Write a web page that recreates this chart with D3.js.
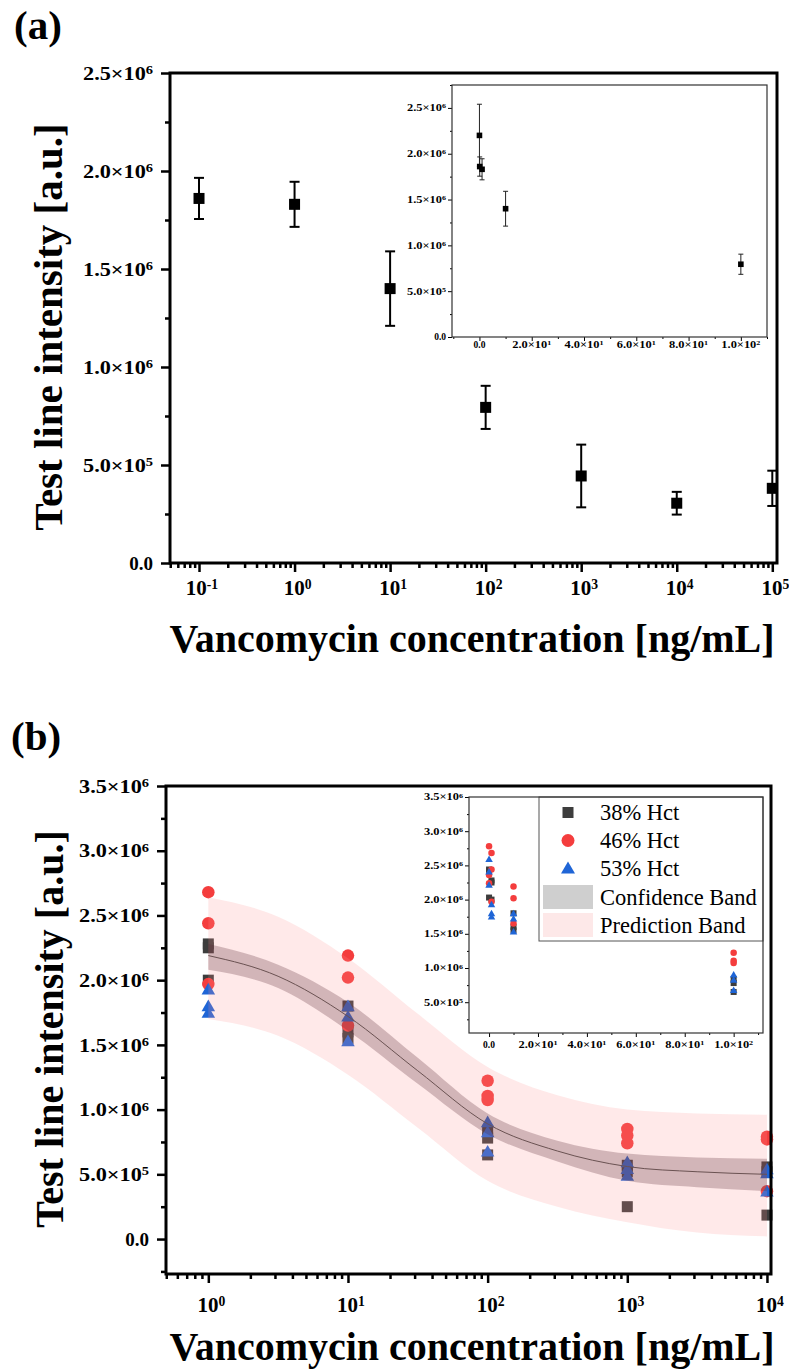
<!DOCTYPE html>
<html>
<head>
<meta charset="utf-8">
<script src="https://cdn.jsdelivr.net/npm/d3@7"></script>
<style>
  body { margin: 0; background: #fff; }
  svg text { font-family: "Liberation Serif", "Times New Roman", serif; }
</style>
</head>
<body>
<script>

/* ---------- panel (a) : mean +/- sd, log x ---------- */
var concA = [0.1, 1, 10, 100, 1000, 10000, 100000];
var meanA = [1.86e6, 1.83e6, 1.40e6, 0.794e6, 0.444e6, 0.305e6, 0.381e6];
var errA  = [0.105e6, 0.115e6, 0.19e6, 0.11e6, 0.16e6, 0.058e6, 0.09e6];

/* inset (a) : linear x, includes blank */
var concAi = [0, 0.1, 1, 10, 100];
var meanAi = [2.2e6, 1.86e6, 1.83e6, 1.40e6, 0.794e6];
var errAi  = [0.34e6, 0.105e6, 0.115e6, 0.19e6, 0.11e6];

/* ---------- panel (b) : three replicates per concentration ---------- */
var concB = [1, 10, 100, 1000, 10000];
var hct38 = [[2.28e6, 2.25e6, 2.00e6], [1.80e6, 1.60e6, 1.55e6], [0.84e6, 0.78e6, 0.65e6], [0.57e6, 0.52e6, 0.25e6], [0.557e6, 0.52e6, 0.185e6]];
var hct46 = [[2.68e6, 2.44e6, 1.97e6], [2.19e6, 2.02e6, 1.65e6], [1.223e6, 1.105e6, 1.074e6], [0.85e6, 0.80e6, 0.74e6], [0.79e6, 0.77e6, 0.37e6]];
var hct53 = [[1.92e6, 1.79e6, 1.74e6], [1.79e6, 1.71e6, 1.52e6], [0.894e6, 0.817e6, 0.667e6], [0.585e6, 0.533e6, 0.48e6], [0.53e6, 0.50e6, 0.358e6]];

var fitX   = [1, 3.16, 10, 31.6, 100, 316, 1000, 3162, 10000];
var fitY   = [2.19e6, 2.03e6, 1.72e6, 1.30e6, 0.89e6, 0.68e6, 0.56e6, 0.52e6, 0.50e6];
var confHi = [2.28e6, 2.12e6, 1.83e6, 1.40e6, 0.97e6, 0.76e6, 0.66e6, 0.63e6, 0.62e6];
var confLo = [2.08e6, 1.94e6, 1.61e6, 1.20e6, 0.81e6, 0.60e6, 0.45e6, 0.40e6, 0.37e6];
var predHi = [2.64e6, 2.49e6, 2.17e6, 1.74e6, 1.33e6, 1.11e6, 1.00e6, 0.97e6, 0.96e6];
var predLo = [1.70e6, 1.57e6, 1.27e6, 0.86e6, 0.45e6, 0.25e6, 0.13e6, 0.05e6, 0.02e6];

/* inset (b) : linear x, includes blank */
var concBi = [0, 1, 10, 100];
var in38 = [[2.44e6, 2.42e6, 2.03e6], [2.28e6, 2.25e6, 2.00e6], [1.80e6, 1.60e6, 1.55e6], [0.84e6, 0.78e6, 0.65e6]];
var in46 = [[2.78e6, 2.36e6, 2.24e6], [2.68e6, 2.44e6, 1.97e6], [2.19e6, 2.02e6, 1.65e6], [1.223e6, 1.105e6, 1.074e6]];
var in53 = [[2.58e6, 2.40e6, 2.205e6], [1.92e6, 1.79e6, 1.74e6], [1.79e6, 1.71e6, 1.52e6], [0.894e6, 0.817e6, 0.667e6]];

var legendNames = ["38% Hct", "46% Hct", "53% Hct", "Confidence Band", "Prediction Band"];

var col38 = "#3d3d3d", col46 = "#f43d3d", col53 = "#1f65d6";

var svg = d3.select("body").append("svg")
  .attr("width", 789).attr("height", 1371);

/* ---------- helpers ---------- */
function sciParts(v) {
  if (Math.abs(v) < 1e-9) return ["0.0", null];
  var e = Math.floor(Math.log10(Math.abs(v)) + 1e-9);
  var m = v / Math.pow(10, e);
  return [m.toFixed(1) + "\u00d710", String(e)];
}
function putSci(sel, v) {
  var p = sciParts(v);
  sel.append("tspan").text(p[0]);
  if (p[1] !== null) sel.append("tspan").attr("dy", "-0.45em").attr("font-size", "0.65em").text(p[1]);
}
function putPow(sel, e) {
  sel.append("tspan").text("10");
  sel.append("tspan").attr("dy", "-0.45em").attr("font-size", "0.65em").text(String(e));
}
function range(lo, hi, step) {
  var out = [];
  for (var i = 0; lo + i * step <= hi + step * 1e-6; i++) out.push(+(lo + i * step).toFixed(6));
  return out;
}
function logMinor(scale) {
  var d = scale.domain(), out = [];
  for (var e = Math.floor(Math.log10(d[0])); e <= Math.ceil(Math.log10(d[1])); e++)
    for (var k = 2; k <= 9; k++) {
      var v = k * Math.pow(10, e);
      if (v >= d[0] && v <= d[1]) out.push(v);
    }
  return out;
}
function ticks(g, scale, side, values, len, width, offset) {
  var ax = side === "left" ? d3.axisLeft(scale) : d3.axisBottom(scale);
  ax.tickValues(values).tickSize(len).tickSizeOuter(0).tickFormat("");
  var t = g.append("g")
    .attr("transform", side === "left" ? "translate(" + offset + ",0)" : "translate(0," + offset + ")")
    .call(ax);
  t.select(".domain").remove();
  t.selectAll(".tick line").attr("stroke", "#000").attr("stroke-width", width);
  return t;
}
function yLabels(g, scale, values, x, size, len) {
  g.selectAll(null).data(values).enter().append("text")
    .attr("x", x).attr("y", function (d) { return scale(d); }).attr("dy", "0.35em")
    .attr("text-anchor", "end").attr("font-size", size).attr("font-weight", "bold")
    .each(function (d) {
      var t = d3.select(this);
      putSci(t, d);
      if (len && d !== 0) t.attr("textLength", len).attr("lengthAdjust", "spacingAndGlyphs");
    });
}
function xSciLabels(g, scale, values, y, size, len) {
  g.selectAll(null).data(values).enter().append("text")
    .attr("x", function (d) { return scale(d); }).attr("y", y)
    .attr("text-anchor", "middle").attr("font-size", size).attr("font-weight", "bold")
    .each(function (d) {
      var t = d3.select(this);
      putSci(t, d);
      if (len && d !== 0) t.attr("textLength", len).attr("lengthAdjust", "spacingAndGlyphs");
    });
}
function xPowLabels(g, scale, values, y, size) {
  g.selectAll(null).data(values).enter().append("text")
    .attr("x", function (d) { return scale(d) + 3; }).attr("y", y)
    .attr("text-anchor", "middle").attr("font-size", size).attr("font-weight", "bold")
    .each(function (d) { putPow(d3.select(this), Math.round(Math.log10(d))); });
}
function flatten(conc, reps) {
  var out = [];
  conc.forEach(function (c, i) { reps[i].forEach(function (v) { out.push({ x: c, y: v }); }); });
  return out;
}
function triPath(side) {
  var h = side * Math.sqrt(3) / 2;
  return "M0," + (-h * 2 / 3) + "L" + (side / 2) + "," + (h / 3) + "L" + (-side / 2) + "," + (h / 3) + "Z";
}
function drawReps(g, x, y, pts, kind, size, color) {
  var s = g.selectAll(null).data(pts).enter();
  if (kind === "square") {
    s.append("rect")
      .attr("x", function (d) { return x(d.x) - size / 2; })
      .attr("y", function (d) { return y(d.y) - size / 2; })
      .attr("width", size).attr("height", size).attr("fill", color);
  } else if (kind === "circle") {
    s.append("circle")
      .attr("cx", function (d) { return x(d.x); }).attr("cy", function (d) { return y(d.y); })
      .attr("r", size / 2).attr("fill", color);
  } else {
    s.append("path").attr("d", triPath(size))
      .attr("transform", function (d) { return "translate(" + x(d.x) + "," + y(d.y) + ")"; })
      .attr("fill", color);
  }
}

/* ================= PANEL (a) ================= */
var gA = svg.append("g");
var xA = d3.scaleLog().domain([0.0497, 112000]).range([170, 777]);
var yA = d3.scaleLinear().domain([0, 2.5e6]).range([563, 73]);

gA.append("text").attr("x", 14).attr("y", 39).attr("font-size", 41).attr("font-weight", "bold").text("(a)");

ticks(gA, yA, "left", range(0, 2.5e6, 0.5e6), 9, 2.5, 170);
ticks(gA, yA, "left", range(0.25e6, 2.25e6, 0.5e6), 5, 2.5, 170);
ticks(gA, xA, "bottom", [0.1, 1, 10, 100, 1000, 10000, 100000], 9, 2.5, 563);
ticks(gA, xA, "bottom", logMinor(xA), 5, 2.5, 563);
yLabels(gA, yA, range(0, 2.5e6, 0.5e6), 153, 19, 70);
xPowLabels(gA, xA, [0.1, 1, 10, 100, 1000, 10000, 100000], 595, 21);

var ptsA = concA.map(function (c, i) { return { x: c, y: meanA[i], e: errA[i] }; });
var eb = gA.selectAll(".eb").data(ptsA).enter().append("g").attr("stroke", "#000").attr("stroke-width", 2);
eb.append("line").attr("x1", function (d) { return xA(d.x); }).attr("x2", function (d) { return xA(d.x); })
  .attr("y1", function (d) { return yA(d.y - d.e); }).attr("y2", function (d) { return yA(d.y + d.e); });
[-1, 1].forEach(function (sgn) {
  eb.append("line").attr("x1", function (d) { return xA(d.x) - 5; }).attr("x2", function (d) { return xA(d.x) + 5; })
    .attr("y1", function (d) { return yA(d.y + sgn * d.e); }).attr("y2", function (d) { return yA(d.y + sgn * d.e); });
});
gA.selectAll(".sqA").data(ptsA).enter().append("rect")
  .attr("x", function (d) { return xA(d.x) - 5.5; }).attr("y", function (d) { return yA(d.y) - 5.5; })
  .attr("width", 11).attr("height", 11).attr("fill", "#000");

/* inset (a) */
var xAi = d3.scaleLinear().domain([-10.5, 110]).range([452, 767]);
var yAi = d3.scaleLinear().domain([0, 2.75e6]).range([337, 85]);
gA.append("rect").attr("x", 452).attr("y", 85).attr("width", 315).attr("height", 252).attr("fill", "#fff");
ticks(gA, yAi, "left", range(0, 2.5e6, 0.5e6), 4, 1, 452);
ticks(gA, yAi, "left", range(0.25e6, 2.75e6, 0.5e6), 2, 1, 452);
ticks(gA, xAi, "bottom", range(0, 100, 20), 4, 1, 337);
ticks(gA, xAi, "bottom", range(-10, 110, 20), 2, 1, 337);
yLabels(gA, yAi, range(0, 2.5e6, 0.5e6), 446, 9.5, 39);
xSciLabels(gA, xAi, range(0, 100, 20), 348, 9.5, 39);

var ptsAi = concAi.map(function (c, i) { return { x: c, y: meanAi[i], e: errAi[i] }; });
var ebi = gA.selectAll(".ebi").data(ptsAi).enter().append("g").attr("stroke", "#222").attr("stroke-width", 1);
ebi.append("line").attr("x1", function (d) { return xAi(d.x); }).attr("x2", function (d) { return xAi(d.x); })
  .attr("y1", function (d) { return yAi(d.y - d.e); }).attr("y2", function (d) { return yAi(d.y + d.e); });
[-1, 1].forEach(function (sgn) {
  ebi.append("line").attr("x1", function (d) { return xAi(d.x) - 2.5; }).attr("x2", function (d) { return xAi(d.x) + 2.5; })
    .attr("y1", function (d) { return yAi(d.y + sgn * d.e); }).attr("y2", function (d) { return yAi(d.y + sgn * d.e); });
});
gA.selectAll(".sqAi").data(ptsAi).enter().append("rect")
  .attr("x", function (d) { return xAi(d.x) - 2.8; }).attr("y", function (d) { return yAi(d.y) - 2.8; })
  .attr("width", 5.6).attr("height", 5.6).attr("fill", "#000");
gA.append("rect").attr("x", 452).attr("y", 85).attr("width", 315).attr("height", 252)
  .attr("fill", "none").attr("stroke", "#333").attr("stroke-width", 1.2);

/* frame + titles (a) */
gA.append("rect").attr("x", 170).attr("y", 73).attr("width", 607).attr("height", 490)
  .attr("fill", "none").attr("stroke", "#000").attr("stroke-width", 3);
gA.append("text").attr("transform", "translate(62,327) rotate(-90)").attr("text-anchor", "middle")
  .attr("font-size", 41).attr("font-weight", "bold").text("Test line intensity [a.u.]");
gA.append("text").attr("x", 472).attr("y", 652).attr("text-anchor", "middle")
  .attr("font-size", 40).attr("font-weight", "bold").text("Vancomycin concentration [ng/mL]");

/* ================= PANEL (b) ================= */
var gB = svg.append("g");
var xB = d3.scaleLog().domain([0.4977, 10690]).range([166, 771]);
var yB = d3.scaleLinear().domain([-0.27e6, 3.5e6]).range([1274, 786]);

gB.append("text").attr("x", 11).attr("y", 750).attr("font-size", 41).attr("font-weight", "bold").text("(b)");

ticks(gB, yB, "left", range(0, 3.5e6, 0.5e6), 9, 2.5, 166);
ticks(gB, yB, "left", range(-0.25e6, 3.25e6, 0.5e6), 5, 2.5, 166);
ticks(gB, xB, "bottom", [1, 10, 100, 1000, 10000], 9, 2.5, 1274);
ticks(gB, xB, "bottom", logMinor(xB), 5, 2.5, 1274);
yLabels(gB, yB, range(0, 3.5e6, 0.5e6), 149, 19, 70);
xPowLabels(gB, xB, [1, 10, 100, 1000, 10000], 1312, 21);

/* replicate markers */
drawReps(gB, xB, yB, flatten(concB, hct38), "square", 11, col38);
drawReps(gB, xB, yB, flatten(concB, hct46), "circle", 12.5, col46);
drawReps(gB, xB, yB, flatten(concB, hct53), "triangle", 13.5, col53);

/* bands drawn over the markers, translucent */
var bandIdx = fitX.map(function (d, i) { return i; });
var pArea = d3.area().curve(d3.curveMonotoneX)
  .x(function (i) { return xB(fitX[i]); })
  .y0(function (i) { return yB(predLo[i]); })
  .y1(function (i) { return yB(predHi[i]); });
var cArea = d3.area().curve(d3.curveMonotoneX)
  .x(function (i) { return xB(fitX[i]); })
  .y0(function (i) { return yB(confLo[i]); })
  .y1(function (i) { return yB(confHi[i]); });
var fLine = d3.line().curve(d3.curveMonotoneX)
  .x(function (i) { return xB(fitX[i]); })
  .y(function (i) { return yB(fitY[i]); });
gB.append("path").attr("d", pArea(bandIdx)).attr("fill", "rgb(255,145,145)").attr("fill-opacity", 0.2);
gB.append("path").attr("d", cArea(bandIdx)).attr("fill", "rgb(90,40,50)").attr("fill-opacity", 0.27);
gB.append("path").attr("d", fLine(bandIdx)).attr("fill", "none").attr("stroke", "#6a5252").attr("stroke-width", 1);

/* inset (b) */
var xBi = d3.scaleLinear().domain([-8.2, 112]).range([469, 763]);
var yBi = d3.scaleLinear().domain([0.05e6, 3.5e6]).range([1033, 797]);
gB.append("rect").attr("x", 469).attr("y", 797).attr("width", 294).attr("height", 236).attr("fill", "#fff");
ticks(gB, yBi, "left", range(0.5e6, 3.5e6, 0.5e6), 4, 1, 469);
ticks(gB, yBi, "left", range(0.25e6, 3.25e6, 0.5e6), 2, 1, 469);
ticks(gB, xBi, "bottom", range(0, 100, 20), 4, 1, 1033);
ticks(gB, xBi, "bottom", range(10, 110, 20), 2, 1, 1033);
yLabels(gB, yBi, range(0.5e6, 3.5e6, 0.5e6), 463, 9.5, 39);
xSciLabels(gB, xBi, range(0, 100, 20), 1048, 9.5, 39);

drawReps(gB, xBi, yBi, flatten(concBi, in38), "square", 6, col38);
drawReps(gB, xBi, yBi, flatten(concBi, in46), "circle", 6.5, col46);
drawReps(gB, xBi, yBi, flatten(concBi, in53), "triangle", 7.5, col53);

/* legend */
var lg = gB.append("g");
lg.append("rect").attr("x", 539).attr("y", 797).attr("width", 224).attr("height", 144)
  .attr("fill", "#fff").attr("stroke", "#555").attr("stroke-width", 1);
var rowY = [812.5, 840.5, 868.5, 897, 925];
lg.append("rect").attr("x", 562.5).attr("y", rowY[0] - 5.5).attr("width", 11).attr("height", 11).attr("fill", col38);
lg.append("circle").attr("cx", 568).attr("cy", rowY[1]).attr("r", 6.5).attr("fill", col46);
lg.append("path").attr("d", triPath(14)).attr("transform", "translate(568," + (rowY[2] + 1) + ")").attr("fill", col53);
lg.append("rect").attr("x", 543).attr("y", rowY[3] - 12).attr("width", 50).attr("height", 24).attr("fill", "#cfcfcf");
lg.append("rect").attr("x", 543).attr("y", rowY[4] - 12).attr("width", 50).attr("height", 24).attr("fill", "#fde8e8");
lg.selectAll(".lt").data(legendNames).enter().append("text")
  .attr("x", 600).attr("y", function (d, i) { return rowY[i]; }).attr("dy", "0.35em")
  .attr("font-size", 22.5).text(function (d) { return d; });

gB.append("rect").attr("x", 469).attr("y", 797).attr("width", 294).attr("height", 236)
  .attr("fill", "none").attr("stroke", "#333").attr("stroke-width", 1.2);

/* frame + titles (b) */
gB.append("rect").attr("x", 166).attr("y", 786).attr("width", 605).attr("height", 488)
  .attr("fill", "none").attr("stroke", "#000").attr("stroke-width", 3);
gB.append("text").attr("transform", "translate(63,1029) rotate(-90)").attr("text-anchor", "middle")
  .attr("font-size", 40).attr("font-weight", "bold").text("Test line intensity [a.u.]");
gB.append("text").attr("x", 472).attr("y", 1360).attr("text-anchor", "middle")
  .attr("font-size", 40).attr("font-weight", "bold").text("Vancomycin concentration [ng/mL]");

</script>
</body>
</html>
